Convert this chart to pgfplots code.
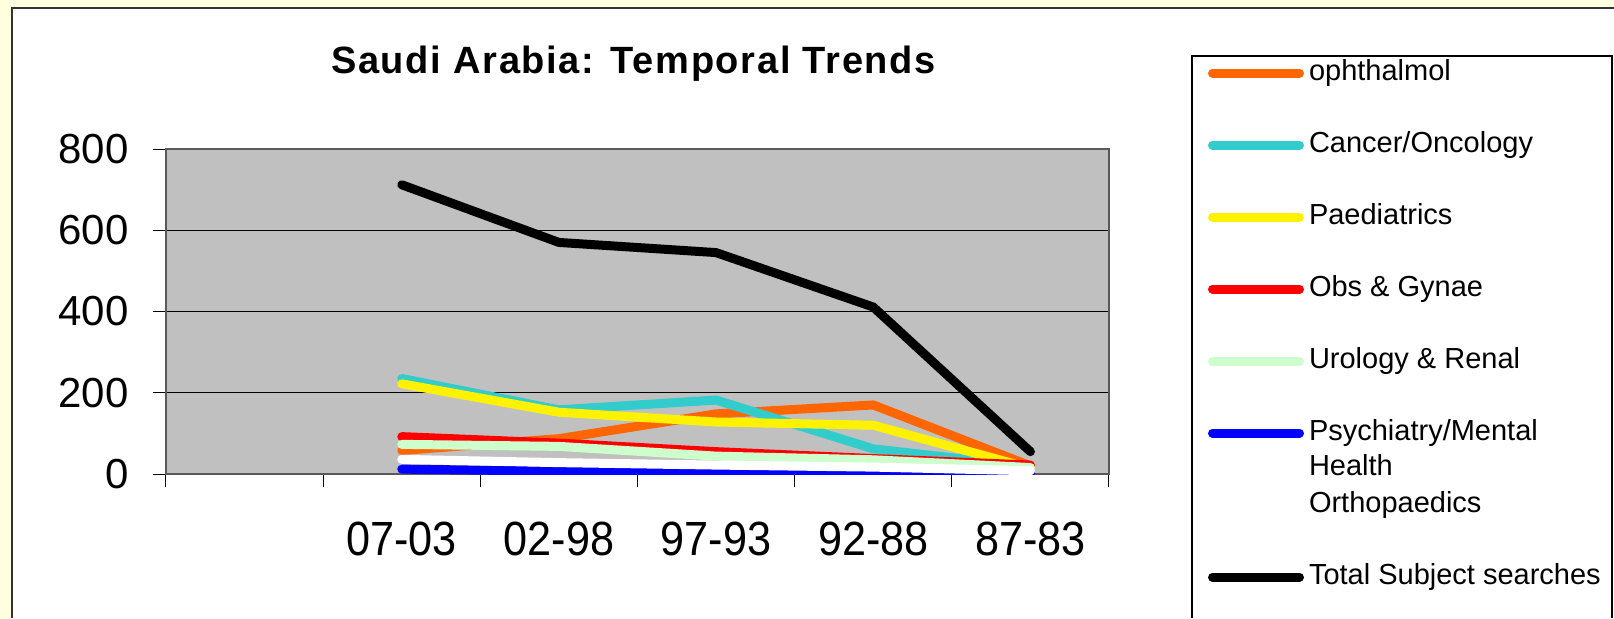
\documentclass[border=0pt]{standalone}
\usepackage{fontspec}
\setmainfont{Liberation Sans}
\newfontfamily\condensed[FakeStretch=0.9]{Liberation Sans}
\newfontfamily\titlefont[LetterSpace=4.4]{Liberation Sans}
\usepackage{pgfplots}
\pgfplotsset{compat=1.18}

\definecolor{bgyellow}{HTML}{FFFFE0}
\definecolor{plotgray}{HTML}{C0C0C0}
\definecolor{ophorange}{HTML}{FF6600}
\definecolor{oncocyan}{HTML}{33CCCC}
\definecolor{urogreen}{HTML}{CCFFCC}

\begin{document}
\begin{tikzpicture}
\useasboundingbox (0,0) rectangle (807pt,309pt);
\fill[bgyellow] (0,0) rectangle (807pt,309pt);
\fill[white] (6pt,0) rectangle (807pt,305pt);
\draw[line width=1pt, black!80] (6pt,0) -- (6pt,305pt) -- (807pt,305pt);
% legend frame (runs off the bottom of the page, as in the original)
\draw[line width=0.6pt] (596pt,0) -- (596pt,281pt) -- (806pt,281pt) -- (806pt,0);

\begin{axis}[
    at={(83pt,72pt)}, anchor=south west,
    scale only axis, width=471.5pt, height=162.5pt,
    xmin=-0.5, xmax=5.5, ymin=0, ymax=800,
    xtick={0,...,5},
    xticklabels={,07-03,02-98,97-93,92-88,87-83},
    minor xtick={-0.5,0.5,...,5.5},
    major x tick style={draw=none},
    ytick={0,200,...,800},
    tick pos=left, tick align=outside,
    major tick length=6.5pt, minor tick length=6.5pt,
    tick style={black, line width=0.5pt},
    ymajorgrids, major grid style={black, line width=0.5pt},
    axis background/.style={fill=plotgray},
    axis line style={gray!70!black, line width=1pt},
    /pgf/number format/assume math mode=true,
    x tick label style={font=\condensed\fontsize{24}{28}\selectfont, inner sep=0pt, yshift=-17.5pt},
    y tick label style={font=\fontsize{21}{25}\selectfont, inner sep=0pt, xshift=-12pt},
    title={Saudi Arabia: Temporal Trends},
    title style={font=\titlefont\bfseries\fontsize{19}{23}\selectfont, at={(0.5,1)}, anchor=base,
        xshift=-2pt, yshift=32pt},
    every axis plot/.append style={line width=4.5pt, line cap=round, line join=round},
    legend cell align=left,
    legend image code/.code={\draw[#1] (2.5pt,0pt) -- (46pt,0pt);},
    legend style={draw=none, fill=none, inner sep=0pt, outer sep=0pt,
        at={(1.105,1.2769)}, anchor=north west,
        row sep=22pt, column sep=0pt,
        font=\fontsize{14.5}{17.5}\selectfont,
        nodes={inner sep=0pt, text height=10.5pt, text depth=3.5pt},
        /tikz/every odd column/.append style={column sep=2.5pt}},
]
\addplot[ophorange] coordinates {(1,58) (2,87) (3,148) (4,170) (5,20)};
\addlegendentry{ophthalmol}
\addplot[oncocyan] coordinates {(1,235) (2,158) (3,182) (4,62) (5,18)};
\addlegendentry{Cancer/Oncology}
\addplot[yellow] coordinates {(1,222) (2,152) (3,128) (4,120) (5,14)};
\addlegendentry{Paediatrics}
\addplot[red] coordinates {(1,92) (2,76) (3,55) (4,38) (5,22)};
\addlegendentry{Obs \& Gynae}
\addplot[urogreen] coordinates {(1,73) (2,68) (3,44) (4,35) (5,16)};
\addlegendentry{Urology \& Renal}
\addplot[blue] coordinates {(1,12) (2,7) (3,3) (4,2) (5,1)};
\addlegendentry{\smash{\begin{tabular}[t]{@{}l@{}}Psychiatry/Mental\\Health\end{tabular}}}
\addplot[white] coordinates {(1,36) (2,28) (3,22) (4,17) (5,8)};
\addlegendentry{Orthopaedics}
\addplot[black] coordinates {(1,712) (2,570) (3,545) (4,411) (5,55)};
\addlegendentry{Total Subject searches}
\end{axis}
\end{tikzpicture}
\end{document}
